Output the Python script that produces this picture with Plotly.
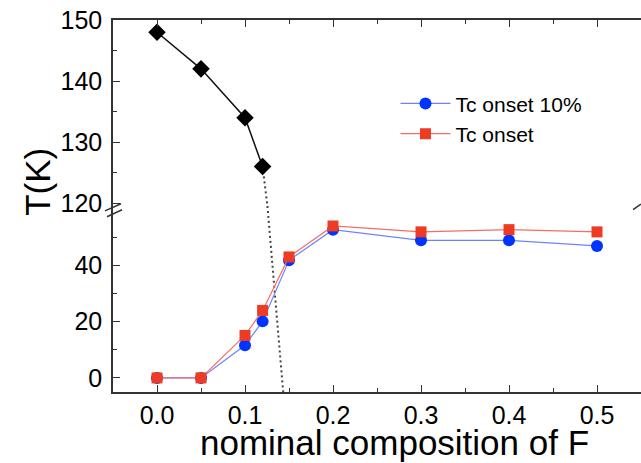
import plotly.graph_objects as go

# ---- data ----
x_hg = [0.0, 0.05, 0.10, 0.12]
t_hg = [148, 142, 134, 126]

x_f = [0.0, 0.05, 0.10, 0.12, 0.15, 0.20, 0.30, 0.40, 0.50]
tc_onset10 = [0, 0, 11.6, 20.1, 41.8, 52.7, 48.9, 48.9, 46.9]
tc_onset = [0, 0, 15.1, 24.0, 43.0, 54.0, 51.9, 52.7, 51.9]

# dotted guide (extrapolation of the high-T branch)
dot_x_upper = [0.12, 0.1255]
dot_y_upper = [126, 119.54]
dot_x_lower = [0.1255, 0.1434]
dot_y_lower = [61.1, -5]

x_ticks = [0.0, 0.1, 0.2, 0.3, 0.4, 0.5]
x_ticktext = ["0.0", "0.1", "0.2", "0.3", "0.4", "0.5"]
y_low_ticks = [0, 20, 40]
y_low_minor = [10, 30, 50]
y_up_ticks = [120, 130, 140, 150]
y_up_minor = [125, 135, 145]

FONT = "Liberation Sans, Arial, sans-serif"
AX = "#333333"

fig = go.Figure()

# dotted guide line
for xs, ys, xa, ya in [(dot_x_upper, dot_y_upper, "x2", "y2"),
                       (dot_x_lower, dot_y_lower, "x", "y")]:
    fig.add_trace(go.Scatter(x=xs, y=ys, xaxis=xa, yaxis=ya, mode="lines",
                             line=dict(color="#444444", width=2, dash="2px,3px"),
                             showlegend=False, hoverinfo="skip"))

# high-T branch (black diamonds)
fig.add_trace(go.Scatter(x=x_hg, y=t_hg, xaxis="x2", yaxis="y2",
                         mode="lines+markers",
                         line=dict(color="#111111", width=1.5),
                         marker=dict(symbol="diamond", size=13.5, color="black"),
                         showlegend=False))

# Tc onset 10% (blue circles)
fig.add_trace(go.Scatter(x=x_f, y=tc_onset10, xaxis="x", yaxis="y",
                         mode="lines+markers", name="Tc onset 10%",
                         line=dict(color="rgb(110,130,255)", width=1.2),
                         marker=dict(symbol="circle", size=12, color="#0033ff")))

# Tc onset (red squares)
fig.add_trace(go.Scatter(x=x_f, y=tc_onset, xaxis="x", yaxis="y",
                         mode="lines+markers", name="Tc onset",
                         line=dict(color="rgb(245,110,100)", width=1.2),
                         marker=dict(symbol="square", size=11, color="#ee3b24")))

tickfont = dict(family=FONT, size=25, color="black")
common_tick = dict(ticks="inside", ticklen=7, tickwidth=1.2, tickcolor=AX,
                   showgrid=False, zeroline=False)

fig.update_layout(
    width=641, height=463,
    margin=dict(l=113, r=0, t=20, b=71.4),
    paper_bgcolor="white", plot_bgcolor="white",
    font=dict(family=FONT, color="black"),
    xaxis=dict(domain=[0, 1], range=[-0.05, 0.55], anchor="y",
               showline=True, linecolor=AX, linewidth=1.5, mirror=False,
               tickvals=x_ticks, ticktext=x_ticktext, tickfont=tickfont,
               minor=dict(dtick=0.05, tick0=0, ticks="inside", ticklen=4, tickcolor=AX),
               **common_tick),
    xaxis2=dict(domain=[0, 1], range=[-0.05, 0.55], anchor="y2", matches="x",
                side="top", showline=True, linecolor=AX, linewidth=1.5,
                tickvals=x_ticks, showticklabels=False,
                minor=dict(dtick=0.05, tick0=0, ticks="inside", ticklen=4, tickcolor=AX),
                **common_tick),
    yaxis=dict(domain=[0, 0.5], range=[-5, 61.1], anchor="x",
               showline=True, linecolor=AX, linewidth=1.5, mirror=False,
               tickvals=y_low_ticks, tickfont=tickfont, ticklabelstandoff=4,
               minor=dict(tickvals=y_low_minor, ticks="inside", ticklen=4, tickcolor=AX),
               **common_tick),
    yaxis2=dict(domain=[0.5, 1], range=[119.54, 150], anchor="x2",
                showline=True, linecolor=AX, linewidth=1.5, mirror=False,
                tickvals=y_up_ticks, tickfont=tickfont, ticklabelstandoff=4,
                minor=dict(tickvals=y_up_minor, ticks="inside", ticklen=4, tickcolor=AX),
                **common_tick),
    # right-hand tick marks (no line, the frame edge is cut off in the reference)
    yaxis3=dict(domain=[0, 0.5], range=[-5, 61.1], anchor="x", overlaying="y",
                side="right", showline=False, showticklabels=False,
                tickvals=y_low_ticks,
                minor=dict(tickvals=y_low_minor, ticks="inside", ticklen=4, tickcolor=AX),
                **common_tick),
    yaxis4=dict(domain=[0.5, 1], range=[119.54, 150], anchor="x2", overlaying="y2",
                side="right", showline=False, showticklabels=False,
                tickvals=y_up_ticks,
                minor=dict(tickvals=y_up_minor, ticks="inside", ticklen=4, tickcolor=AX),
                **common_tick),
    legend=dict(x=0.535, y=0.83, xanchor="left", yanchor="top",
                bgcolor="rgba(0,0,0,0)", font=dict(family=FONT, size=21, color="black"),
                itemwidth=50, tracegroupgap=0),
    annotations=[
        dict(text="nominal composition of F", xref="paper", yref="paper",
             x=0.533, y=-0.1922, xanchor="center", yanchor="bottom", showarrow=False,
             borderpad=0, font=dict(family=FONT, size=35, color="black")),
        dict(text="T(K)", xref="paper", yref="paper",
             x=-0.142, y=0.565, xanchor="center", yanchor="middle", showarrow=False,
             textangle=-90, font=dict(family=FONT, size=35, color="black")),
    ],
    shapes=[
        # axis-break marks on the left axis
        dict(type="line", xref="paper", yref="paper",
             x0=-0.0152, y0=0.4870, x1=0.0152, y1=0.5060,
             line=dict(color=AX, width=1.5)),
        dict(type="line", xref="paper", yref="paper",
             x0=-0.0114, y0=0.4710, x1=0.0171, y1=0.4900,
             line=dict(color=AX, width=1.5)),
        # axis-break mark on the right axis
        dict(type="line", xref="paper", yref="paper",
             x0=0.985, y0=0.490, x1=1.0, y1=0.505,
             line=dict(color=AX, width=1.5)),
    ],
)

fig.write_html("out.html")
